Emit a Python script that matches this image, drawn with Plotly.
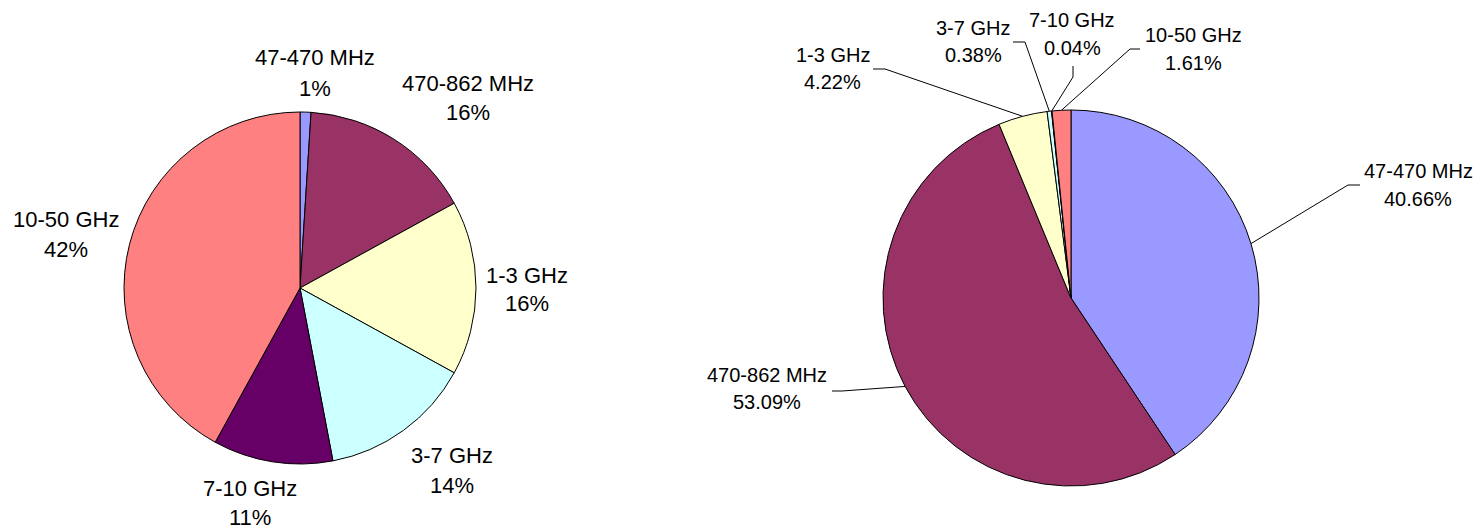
import math
import plotly.graph_objects as go

# ---- data ----
bands = ["47-470 MHz", "470-862 MHz", "1-3 GHz", "3-7 GHz", "7-10 GHz", "10-50 GHz"]
left_values = [1, 16, 16, 14, 11, 42]
right_values = [40.66, 53.09, 4.22, 0.38, 0.04, 1.61]
colors = ["#9999FF", "#993366", "#FFFFCC", "#CCFFFF", "#660066", "#FF8080"]

# ---- layout constants (page pixels) ----
W, H = 1484, 529
OFF = 8  # default page body margin
FONT = "Liberation Sans, Arial, sans-serif"

left_pie = dict(cx=300, cy=288, r=176)
right_pie = dict(cx=1071, cy=298, r=188)

# label positions: (x, y line1, y line2)
left_labels = [(315, 57.5, 88), (468, 83, 112), (527, 275, 303),
               (452, 455, 485), (250, 488, 517), (66, 219, 250)]
right_labels = [(1418, 171, 199), (767, 375, 402), (833, 55, 82),
                (973, 28, 55), (1072, 20, 48), (1193, 35, 63)]
# leader line: label-side end point and elbow point
right_leaders = [((1360, 185), (1348, 185)), ((832, 391), (842, 391)),
                 ((873, 69), (885, 69)), ((1013, 42), (1025, 42)),
                 ((1073, 66), (1073, 77)), ((1140, 49), (1130, 49))]


def px(x):
    return (x - OFF) / W


def py(y):
    return 1 - (y - OFF) / H


def domain(p):
    return dict(x=[px(p["cx"] - p["r"]), px(p["cx"] + p["r"])],
                y=[py(p["cy"] + p["r"]), py(p["cy"] - p["r"])])


def mid_angles(values):
    tot = sum(values)
    out, cum = [], 0
    for v in values:
        out.append((cum + v / 2) / tot * 2 * math.pi)
        cum += v
    return out


fig = go.Figure()
for vals, p in ((left_values, left_pie), (right_values, right_pie)):
    fig.add_trace(go.Pie(
        labels=bands, values=vals, sort=False, direction="clockwise", rotation=0,
        marker=dict(colors=colors, line=dict(color="black", width=1)),
        textinfo="none", domain=domain(p), showlegend=False,
    ))

annotations = []
tot_l = sum(left_values)
for name, v, (x, y1, y2) in zip(bands, left_values, left_labels):
    annotations.append(dict(x=px(x), y=py(y1), text=name, font=dict(size=22)))
    annotations.append(dict(x=px(x), y=py(y2), text=f"{v / tot_l * 100:.0f}%", font=dict(size=22)))

tot_r = sum(right_values)
for name, v, (x, y1, y2) in zip(bands, right_values, right_labels):
    annotations.append(dict(x=px(x), y=py(y1), text=name, font=dict(size=20)))
    annotations.append(dict(x=px(x), y=py(y2), text=f"{v / tot_r * 100:.2f}%", font=dict(size=20)))

for a in annotations:
    a.update(xref="paper", yref="paper", xanchor="center", yanchor="middle",
             showarrow=False)
    a["font"].update(family=FONT, color="black")

shapes = []
for ang, (end, elbow) in zip(mid_angles(right_values), right_leaders):
    ex = right_pie["cx"] + right_pie["r"] * math.sin(ang)
    ey = right_pie["cy"] - right_pie["r"] * math.cos(ang)
    path = (f"M {px(end[0])} {py(end[1])} L {px(elbow[0])} {py(elbow[1])} "
            f"L {px(ex)} {py(ey)}")
    shapes.append(dict(type="path", path=path, xref="paper", yref="paper",
                       line=dict(color="black", width=1)))

fig.update_layout(
    width=W, height=H,
    margin=dict(l=0, r=0, t=0, b=0),
    paper_bgcolor="white", plot_bgcolor="white",
    annotations=annotations, shapes=shapes,
    font=dict(family=FONT, color="black"),
)

fig.write_html("out.html")
